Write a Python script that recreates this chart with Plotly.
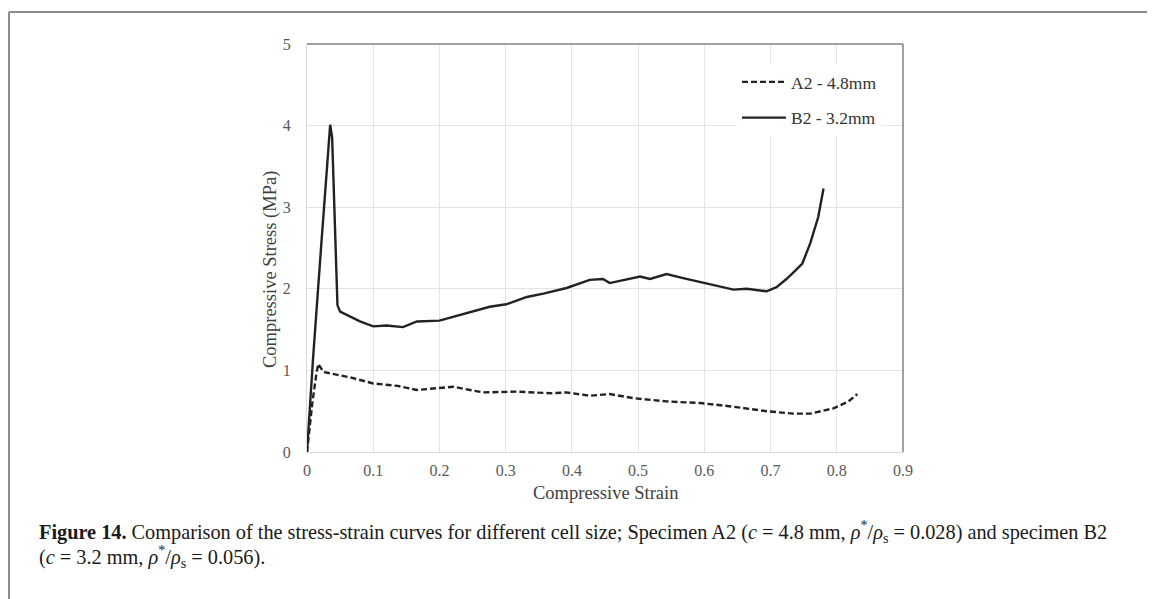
import plotly.graph_objects as go

# B2 - 3.2mm (solid)
b2_strain = [0.0, 0.009, 0.021, 0.030, 0.035, 0.038, 0.041, 0.044, 0.046, 0.050, 0.065, 0.080, 0.100, 0.120,
             0.145, 0.166, 0.200, 0.246, 0.276, 0.301, 0.332, 0.357, 0.392, 0.427, 0.447, 0.457, 0.482,
             0.503, 0.518, 0.543, 0.568, 0.599, 0.624, 0.644, 0.664, 0.694, 0.709, 0.724, 0.737,
             0.748, 0.760, 0.772, 0.780]
b2_stress = [0.0, 1.13, 2.48, 3.55, 4.01, 3.85, 3.1, 2.4, 1.8, 1.72, 1.66, 1.60, 1.54, 1.55,
             1.53, 1.60, 1.61, 1.71, 1.78, 1.81, 1.90, 1.94, 2.01, 2.11, 2.12, 2.07, 2.11,
             2.15, 2.12, 2.18, 2.13, 2.07, 2.02, 1.99, 2.00, 1.97, 2.02, 2.12, 2.22,
             2.31, 2.56, 2.88, 3.23]

# A2 - 4.8mm (dashed)
a2_strain = [0.0, 0.008, 0.014, 0.017, 0.025, 0.045, 0.065, 0.100, 0.137, 0.166, 0.196, 0.221,
             0.246, 0.266, 0.317, 0.367, 0.392, 0.427, 0.457, 0.493, 0.543, 0.594, 0.644,
             0.694, 0.734, 0.760, 0.795, 0.817, 0.831]
a2_stress = [0.0, 0.6, 0.95, 1.08, 0.98, 0.95, 0.915, 0.84, 0.81, 0.76, 0.78, 0.80,
             0.76, 0.73, 0.74, 0.72, 0.73, 0.69, 0.71, 0.66, 0.62, 0.60, 0.555,
             0.50, 0.47, 0.47, 0.535, 0.615, 0.71]

x_ticks = [0, 0.1, 0.2, 0.3, 0.4, 0.5, 0.6, 0.7, 0.8, 0.9]
x_tick_labels = ["0", "0.1", "0.2", "0.3", "0.4", "0.5", "0.6", "0.7", "0.8", "0.9"]
y_ticks = [0, 1, 2, 3, 4, 5]
y_tick_labels = ["0", "1", "2", "3", "4", "5"]

SERIF = "Liberation Serif"
OFF = 8  # page body margin
W, H = 1155 - OFF, 599 - OFF
# desired on-screen plot area: x 307..903, y 44..452
L, T = 307 - OFF, 44 - OFF
R = W - (903 - OFF)
B = H - (452 - OFF)


def px_x(p):
    """screen x pixel -> paper coordinate"""
    return (p - OFF - L) / (W - L - R)


def px_y(p):
    """screen y pixel -> paper coordinate"""
    return (H - B - (p - OFF)) / (H - T - B)


fig = go.Figure()
fig.add_trace(go.Scatter(x=a2_strain, y=a2_stress, mode="lines", name="A2 - 4.8mm",
                         legendgroup="a", line=dict(color="#222222", width=2.4, dash="6px,3px")))
fig.add_trace(go.Scatter(x=b2_strain, y=b2_stress, mode="lines", name="B2 - 3.2mm",
                         legendgroup="b", line=dict(color="#222222", width=2.4)))

fig.update_layout(
    width=W, height=H,
    margin=dict(l=L, r=R, t=T, b=B, pad=0),
    paper_bgcolor="white", plot_bgcolor="white",
    font=dict(family=SERIF, color="#404040"),
    showlegend=True,
    legend=dict(x=px_x(737), y=px_y(64), xanchor="left", yanchor="top", bgcolor="white",
                font=dict(family=SERIF, size=17.5, color="#333333"),
                tracegroupgap=10, itemwidth=44),
    xaxis=dict(range=[0, 0.9], tickvals=x_ticks, ticktext=x_tick_labels,
               showgrid=True, gridcolor="#e3e3e3", gridwidth=1, zeroline=False,
               showline=True, linecolor="#d9d9d9", linewidth=1,
               tickfont=dict(family=SERIF, size=16, color="#595959"),
               ticks="", ticklabelstandoff=4),
    yaxis=dict(range=[0, 5], tickvals=y_ticks, ticktext=y_tick_labels,
               showgrid=True, gridcolor="#e3e3e3", gridwidth=1, zeroline=False,
               showline=True, linecolor="#d9d9d9", linewidth=1,
               tickfont=dict(family=SERIF, size=16, color="#595959"),
               ticks="", ticklabelstandoff=12),
)

# plot-area frame: dark top and right edges
fig.add_shape(type="line", xref="paper", yref="paper", x0=0, x1=1, y0=1, y1=1,
              line=dict(color="#808080", width=1.5))
fig.add_shape(type="line", xref="paper", yref="paper", x0=1, x1=1, y0=0, y1=1,
              line=dict(color="#808080", width=1.5))

# outer figure frame (top and left)
fig.add_shape(type="line", xref="paper", yref="paper", x0=px_x(9), x1=px_x(1170),
              y0=px_y(12), y1=px_y(12), line=dict(color="#8c8c8c", width=2))
fig.add_shape(type="line", xref="paper", yref="paper", x0=px_x(9), x1=px_x(9),
              y0=px_y(12), y1=px_y(620), line=dict(color="#8c8c8c", width=2))

# axis titles
fig.add_annotation(text="Compressive Strain", xref="paper", yref="paper",
                   x=0.5, y=px_y(493), xanchor="center", yanchor="middle", showarrow=False,
                   font=dict(family=SERIF, size=18.5, color="#404040"))
fig.add_annotation(text="Compressive Stress (MPa)", xref="paper", yref="paper",
                   x=px_x(270), y=px_y(270), xanchor="center", yanchor="middle", showarrow=False,
                   textangle=-90, font=dict(family=SERIF, size=18.5, color="#404040"))

# caption
cap1 = ("<b>Figure 14.</b> Comparison of the stress-strain curves for different cell size; "
        "Specimen A2 (<i>c</i> = 4.8 mm, <i>ρ</i><sup>*</sup>/<i>ρ</i><sub>s</sub> = 0.028) and specimen B2")
cap2 = "(<i>c</i> = 3.2 mm, <i>ρ</i><sup>*</sup>/<i>ρ</i><sub>s</sub> = 0.056)."
fig.add_annotation(text=cap1, xref="paper", yref="paper", x=px_x(37), y=px_y(531),
                   xanchor="left", yanchor="middle", showarrow=False,
                   font=dict(family=SERIF, size=20.3, color="#1a1a1a"))
fig.add_annotation(text=cap2, xref="paper", yref="paper", x=px_x(37), y=px_y(556),
                   xanchor="left", yanchor="middle", showarrow=False,
                   font=dict(family=SERIF, size=20.3, color="#1a1a1a"))

fig.write_html("out.html")
